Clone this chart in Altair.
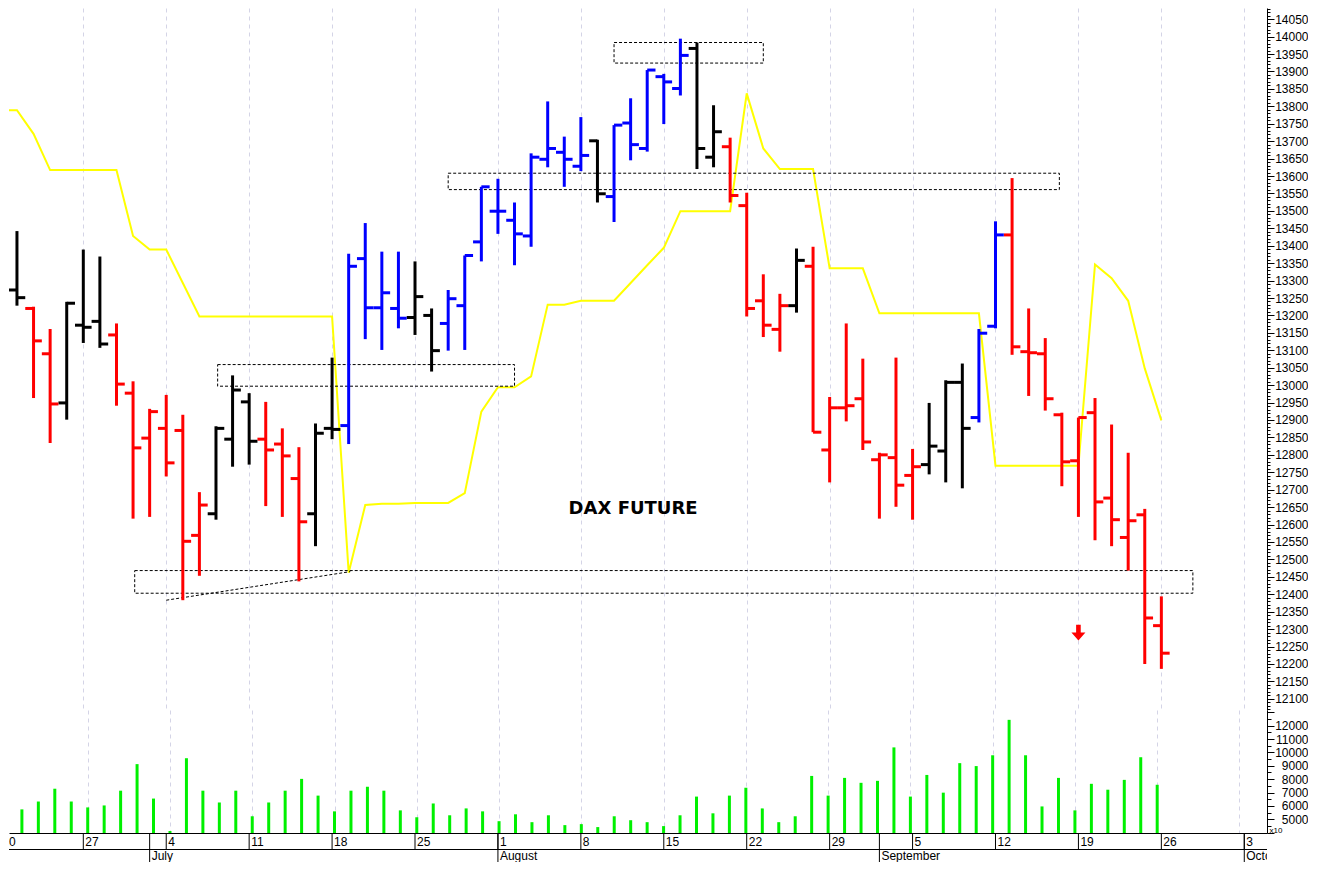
import altair as alt
import pandas as pd

# ---------------- data ----------------
# trading-day index 0 = Tue 21 Jun 2022 ... 69 = Mon 26 Sep 2022
opens = [13273, 13220, 13090, 12949, 13172, 13183, 13144, 12977, 12848, 12876,
         12870, 12569, 12631, 12845, 12952, 12845, 12831, 12732, 12631, 12876,
         12884, 13363, 13222, 13220, 13194, 13200, 13177, 13228, 13411, 13499,
         13473, 13428, 13648, 13668, 13628, 13701, 13541, 13752, 13679, 13885,
         13851, 13966, 13654, 13684, 13515, 13242, 13160, 13228, 13341, 12814,
         12935, 12961, 12786, 12792, 12741, 12772, 12811, 13008, 12907, 13169,
         13431, 13096, 13090, 12915, 12783, 12921, 12676, 12563, 12628, 12310]
highs = [13442, 13225, 13161, 13239, 13389, 13369, 13177, 13011, 12932, 12972,
         12915, 12693, 12882, 13028, 12977, 12952, 12876, 12822, 12890, 13079,
         13377, 13465, 13383, 13383, 13355, 13220, 13273, 13372, 13569, 13592,
         13524, 13665, 13814, 13713, 13769, 13704, 13746, 13823, 13904, 13893,
         13994, 13983, 13803, 13710, 13552, 13318, 13262, 13392, 13397, 12966,
         13177, 13076, 12806, 13079, 12817, 12949, 13014, 13062, 13161, 13470,
         13594, 13220, 13135, 12921, 12907, 12963, 12887, 12806, 12645, 12394]
lows = [13228, 12963, 12834, 12901, 13121, 13107, 12941, 12617, 12622, 12738,
        12383, 12453, 12614, 12766, 12772, 12653, 12622, 12437, 12538, 12845,
        12831, 13132, 13101, 13163, 13144, 13039, 13099, 13101, 13355, 13434,
        13344, 13397, 13625, 13569, 13614, 13524, 13468, 13645, 13670, 13749,
        13831, 13620, 13625, 13524, 13197, 13138, 13096, 13208, 12865, 12721,
        12896, 12814, 12617, 12651, 12614, 12744, 12721, 12704, 12893, 13163,
        13087, 12969, 12927, 12710, 12622, 12555, 12538, 12468, 12200, 12186]
closes = [13251, 13127, 12946, 13235, 13166, 13118, 13003, 12820, 12924, 12777,
          12552, 12656, 12876, 12986, 12839, 12814, 12797, 12608, 12862, 12873,
          13341, 13222, 13265, 13192, 13254, 13099, 13248, 13372, 13569, 13499,
          13434, 13654, 13679, 13648, 13659, 13549, 13746, 13690, 13904, 13870,
          13946, 13679, 13727, 13544, 13220, 13172, 13228, 13358, 12865, 12935,
          12941, 12837, 12800, 12713, 12766, 12825, 13008, 12876, 13149, 13431,
          13110, 13093, 12961, 12780, 12907, 12665, 12614, 12611, 12332, 12231]
bar_colors = ["k", "r", "r", "k", "k", "k", "r", "r", "r", "r",
              "r", "r", "k", "k", "k", "r", "r", "r", "k", "k",
              "b", "b", "b", "b", "k", "k", "b", "b", "b", "b",
              "b", "b", "b", "b", "b", "k", "b", "b", "b", "b",
              "b", "k", "k", "r", "r", "r", "r", "k", "r", "r",
              "r", "r", "r", "r", "r", "k", "k", "k", "b", "b",
              "r", "r", "r", "r", "r", "r", "r", "r", "r", "r"]
volumes = [5737, 6326, 7284, 6326, 5884, 6032, 7137, 9126, 6547, 4116,
           9568, 7137, 6253, 7137, 5221, 6253, 7137, 8021, 6768, 5589,
           7137, 7431, 7137, 5663, 5147, 6179, 5295, 5810, 5589, 4853,
           5368, 4779, 5295, 4558, 4632, 4411, 5221, 4926, 4779, 4484,
           5295, 6695, 5442, 6768, 7358, 5810, 4779, 5221, 8242, 6768,
           8095, 7726, 7874, 10379, 6695, 8316, 6989, 9200, 8979, 9789,
           12442, 9789, 5958, 8095, 5663, 7652, 7210, 7947, 9642, 7579]

yellow_idx = list(range(-1, 70))
yellow_val = [13789, 13789, 13721, 13617, 13617, 13617, 13617, 13617, 13428, 13389,
              13389, 13293, 13197, 13197, 13197, 13197, 13197, 13197, 13197, 13197,
              13197, 12462, 12656, 12660, 12660, 12662, 12662, 12662, 12690, 12924,
              12994, 12994, 13025, 13231, 13231, 13242, 13242, 13242, 13293, 13344,
              13394, 13499, 13499, 13499, 13499, 13837, 13679, 13620, 13620, 13620,
              13335, 13335, 13335, 13206, 13206, 13206, 13206, 13206, 13206, 13206,
              12769, 12769, 12769, 12769, 12769, 12769, 13346, 13307, 13242, 13048,
              12899]

# dashed boxes (trading-day index span, price span)
box_x1 = [36.0, 26.0, 12.1, 7.1]
box_x2 = [45.0, 62.85, 30.0, 70.9]
box_p1 = [13983, 13608, 13059, 12468]
box_p2 = [13924, 13561, 12997, 12403]
trend_idx = [9.0, 20.1]
trend_val = [12383, 12465]

title_text = "DAX FUTURE"
title_idx = 37.15
title_price = 12645
arrow_idx = 64
arrow_price = 12290

monday_idx = [-1, 4, 9, 14, 19, 24, 29, 34, 39, 44, 49, 54, 59, 64, 69, 74]
monday_lab = ["20", "27", "4", "11", "18", "25", "1", "8", "15", "22", "29", "5", "12", "19", "26", "3"]
month_idx = [8, 29, 52, 74]
month_lab = ["July", "August", "September", "October"]

price_ticks = list(range(12070, 14090, 10))
vol_ticks = list(range(4000, 13500, 500))

# ---------------- build ----------------
W = 1258
H_PRICE = 702
H_VOL = 123
H_STRIP = 29
X_DOMAIN = [-0.48, 75.37]
P_DOMAIN = [12068, 14082]
V_DOMAIN = [3968, 13179]
FONT = "Liberation Sans"
NO_VIEW = {"stroke": "transparent", "strokeWidth": 0}

ohlc = pd.DataFrame({"idx": list(range(70)), "o": opens, "h": highs, "l": lows,
                     "c": closes, "col": bar_colors, "v": volumes})
yel = pd.DataFrame({"idx": yellow_idx, "p": yellow_val})
boxes = pd.DataFrame({"x1": box_x1, "x2": box_x2, "p1": box_p1, "p2": box_p2})
trend = pd.DataFrame({"idx": trend_idx, "p": trend_val})
ttl = pd.DataFrame({"idx": [title_idx], "p": [title_price], "t": [title_text]})
arr = pd.DataFrame({"idx": [arrow_idx], "p": [arrow_price]})
days = pd.DataFrame({"idx": monday_idx, "lab": monday_lab})
days_in = days[days["idx"] >= X_DOMAIN[0]]
months = pd.DataFrame({"idx": month_idx, "lab": month_lab})
one = pd.DataFrame({"k": [0]})
grid_vals = [i for i in monday_idx if X_DOMAIN[0] <= i <= X_DOMAIN[1]]

xs = alt.Scale(domain=X_DOMAIN, nice=False, zero=False)
grid_axis = alt.Axis(values=grid_vals, grid=True, gridColor="#d4d4e6", gridDash=[4, 4],
                     gridWidth=1, labels=False, ticks=False, domain=False, title=None)
vol_x_axis = alt.Axis(values=grid_vals, grid=True, gridColor="#d4d4e6", gridDash=[4, 4],
                      gridWidth=1, labels=False, ticks=False, domain=True,
                      domainColor="black", domainWidth=1, title=None)

ps = alt.Scale(domain=P_DOMAIN, nice=False, zero=False)
price_axis = alt.Axis(orient="right", values=price_ticks, format="d",
                      labelExpr="datum.value % 50 === 0 ? datum.label : ''",
                      labelOverlap=False,
                      labelFontSize={"condition": {"test": "datum.value % 50 === 0", "value": 12}, "value": 0},
                      tickSize={"condition": {"test": "datum.value % 50 === 0", "value": 7}, "value": 3},
                      tickColor="black", domainColor="black", labelColor="black",
                      labelFont=FONT, labelAlign="right", labelPadding=34,
                      grid=False, title=None)


def X(field):
    return alt.X(field, type="quantitative", scale=xs, axis=grid_axis)


def Y(field):
    return alt.Y(field, type="quantitative", scale=ps, axis=price_axis)


cscale = alt.Scale(domain=["b", "r", "k"], range=["#0000ff", "#ff0000", "#000000"])

yellow = alt.Chart(yel).mark_line(color="#ffff00", strokeWidth=2, clip=True).encode(
    x=X("idx"), y=Y("p"))
rects = alt.Chart(boxes).mark_rect(filled=False, stroke="black", strokeWidth=1,
                                   strokeDash=[3, 2], clip=True).encode(
    x=X("x1"), x2="x2", y=Y("p1"), y2="p2")
tline = alt.Chart(trend).mark_line(color="black", strokeWidth=1, strokeDash=[3, 2], clip=True).encode(
    x=X("idx"), y=Y("p"))

base = alt.Chart(ohlc)
wick = base.mark_rule(strokeWidth=3, clip=True).encode(
    x=X("idx"), y=Y("l"), y2="h",
    color=alt.Color("col:N", scale=cscale, legend=None))
otick = base.transform_calculate(xo="datum.idx - 0.5").mark_rule(strokeWidth=3, clip=True).encode(
    x=X("xo"), x2="idx", y=Y("o"),
    color=alt.Color("col:N", scale=cscale, legend=None))
ctick = base.transform_calculate(xc="datum.idx + 0.5").mark_rule(strokeWidth=3, clip=True).encode(
    x=X("idx"), x2="xc", y=Y("c"),
    color=alt.Color("col:N", scale=cscale, legend=None))

label = alt.Chart(ttl).mark_text(font="DejaVu Sans", fontWeight="bold", fontSize=18,
                                 color="black").encode(x=X("idx"), y=Y("p"), text="t:N")
arrow = alt.Chart(arr).mark_point(
    shape="M -0.33 -1.14 L 0.33 -1.14 L 0.33 0 L 1 0 L 0 1.14 L -1 0 L -0.33 0 Z",
    size=196, filled=True, color="#ff0000", opacity=1, strokeWidth=0).encode(
    x=X("idx"), y=Y("p"))

price = alt.layer(yellow, rects, tline, wick, otick, ctick, label, arrow).properties(
    width=W, height=H_PRICE, view=NO_VIEW)

vs = alt.Scale(domain=V_DOMAIN, nice=False, zero=False)
vol_axis = alt.Axis(orient="right", values=vol_ticks, format="d",
                    labelExpr="datum.value % 1000 === 0 && datum.value >= 5000 && datum.value <= 12000 ? datum.label : ''",
                    labelOverlap=False,
                    labelFontSize={"condition": {"test": "datum.value % 1000 === 0 && datum.value >= 5000 && datum.value <= 12000", "value": 12}, "value": 0},
                    tickSize={"condition": {"test": "datum.value % 1000 === 0", "value": 7}, "value": 4},
                    tickColor="black", domainColor="black", labelColor="black",
                    labelFont=FONT, labelAlign="right", labelPadding=34, grid=False,
                    title="x10", titleAngle=0, titleFontSize=8, titleFontWeight="normal",
                    titleFont=FONT, titleAlign="left", titleBaseline="bottom",
                    titleX=2, titleY=H_VOL + 1)
vol = alt.Chart(ohlc).mark_bar(size=3, color="#00f000", clip=True).encode(
    x=alt.X("idx", type="quantitative", scale=xs, axis=vol_x_axis),
    y=alt.Y("v", type="quantitative", scale=vs, axis=vol_axis)).properties(
    width=W, height=H_VOL, view=NO_VIEW)

SX = alt.X("idx", type="quantitative", scale=xs, axis=None)
day_rules = alt.Chart(days_in).mark_rule(color="black", strokeWidth=1, clip=True).encode(
    x=SX, y=alt.value(0), y2=alt.value(16.5))
day_text = alt.Chart(days).mark_text(align="left", baseline="middle", dx=2, fontSize=12,
                                     font=FONT, color="black", clip=True).encode(
    x=SX, y=alt.value(8.5), text="lab:N")
month_rules = alt.Chart(months).mark_rule(color="black", strokeWidth=1, clip=True).encode(
    x=SX, y=alt.value(0), y2=alt.value(H_STRIP))
month_text = alt.Chart(months).mark_text(align="left", baseline="middle", dx=2, fontSize=12,
                                         font=FONT, color="black", clip=True).encode(
    x=SX, y=alt.value(23), text="lab:N")
hline = alt.Chart(one).mark_rule(color="black", strokeWidth=1).encode(y=alt.value(16.5))
strip = alt.layer(day_rules, month_rules, hline, day_text, month_text).properties(
    width=W, height=H_STRIP, view=NO_VIEW)

chart = alt.vconcat(price, vol, strip, spacing=0).properties(
    padding=0, bounds="flush").configure_view(
    strokeWidth=0, stroke="transparent").configure(font=FONT, background="white")

chart.save("out.html", embed_options={"renderer": "svg", "actions": False})
